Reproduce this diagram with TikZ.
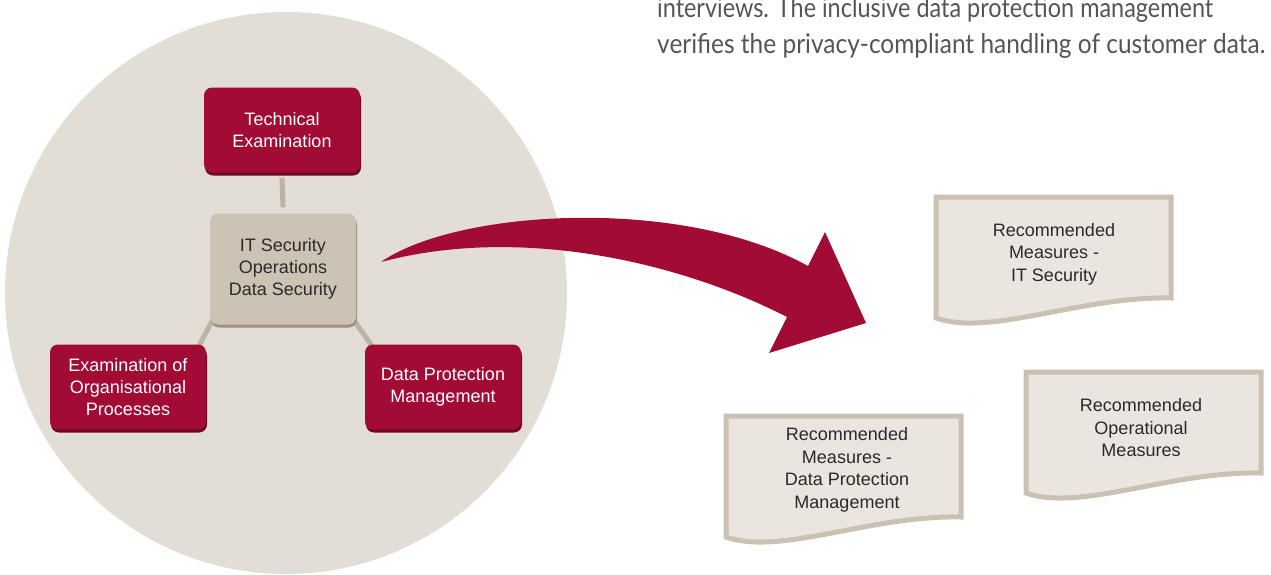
\documentclass[tikz,border=0pt]{standalone}
\usepackage{fontspec}
\setmainfont{Liberation Sans}
\newfontfamily\bodyfont{Lato}
\usetikzlibrary{backgrounds,shadows}
\definecolor{crimson}{HTML}{A20B33}
\definecolor{crimsondark}{HTML}{6C0A22}
\definecolor{bgcircle}{HTML}{E2DED6}
\definecolor{tanfill}{HTML}{CDC3B5}
\definecolor{tandark}{HTML}{9E9282}
\definecolor{linec}{HTML}{BDB2A4}
\definecolor{docfill}{HTML}{EAE5DE}
\definecolor{docline}{HTML}{CBC1B2}
\definecolor{txtdark}{HTML}{2A2A2A}
\definecolor{bodytxt}{HTML}{555555}
\begin{document}
\begin{tikzpicture}[x=1pt,y=-1pt,
  boxbase/.style={rounded corners=8pt, inner sep=0pt, align=center,
    font=\fontsize{18}{22}\selectfont},
  redbox/.style={boxbase, fill=crimson, text=white, minimum width=156pt, minimum height=85pt,
    drop shadow={shadow xshift=1pt, shadow yshift=-3pt, fill=crimsondark, opacity=1}},
  corebox/.style={boxbase, fill=tanfill, text=txtdark, minimum width=146pt, minimum height=111pt,
    drop shadow={shadow xshift=1pt, shadow yshift=-3pt, fill=tandark, opacity=1}},
  link/.style={draw=linec, line width=5pt},
  docstyle/.style={draw=docline, line width=5pt, fill=docfill, line join=miter},
  doctext/.style={align=center, text=txtdark, font=\fontsize{18}{22.5}\selectfont},
  bodyline/.style={anchor=base west, inner sep=0pt, text=bodytxt},
  docpic/.pic={\path[docstyle] (0,0) -- (235,0) -- (235,101)
      .. controls (144,99) and (54,140) .. (0,121) -- cycle;}
]
\useasboundingbox (0,0) rectangle (1271,574);
% background circle
\begin{scope}[on background layer]
  \clip (0,0) rectangle (1271,574);
  \fill[bgcircle] (286,293) circle[radius=281];
\end{scope}

% body text
\node[bodyline] (t1) at (657,17) {\resizebox{556pt}{20pt}{\bodyfont interviews. The inclusive data protection management}};
\node[bodyline] (t2) at (657,53) {\resizebox{608pt}{20pt}{\bodyfont verifies the privacy-compliant handling of customer data.}};

% boxes
\node[redbox] (tech) at (282,130) {Technical\\Examination};
\node[corebox] (core) at (283,269) {IT Security\\Operations\\Data Security};
\node[redbox] (org) at (128,387) {Examination of\\Organisational\\Processes};
\node[redbox] (dpm) at (443,387) {Data Protection\\Management};

\begin{scope}[on background layer]
  \draw[link] ([yshift=-5pt]tech.south) -- ([yshift=6pt]core.north);
  \draw[link] ([xshift=4pt,yshift=7pt]core.south west) -- ([xshift=-8pt,yshift=-3pt]org.north east);
  \draw[link] ([xshift=-4pt,yshift=7pt]core.south east) -- ([xshift=8pt,yshift=-3pt]dpm.north west);
\end{scope}

% big arrow
\coordinate (tail) at (381,262);
\fill[crimson] (tail) .. controls (455,210) and (680,195) .. (808,266)
  -- (825,232) -- (866,323) -- (769,353) -- (787,317)
  .. controls (680,262) and (520,225) .. (tail) -- cycle;

% documents
\pic at (936,197) {docpic};
\node[doctext] (d1) at (1054,254) {Recommended\\Measures -\\IT Security};
\pic at (1026,372) {docpic};
\node[doctext] (d2) at (1141,428) {Recommended\\Operational\\Measures};
\pic at (726,416) {docpic};
\node[doctext] (d3) at (847,470) {Recommended\\Measures -\\Data Protection\\Management};
\end{tikzpicture}
\end{document}
